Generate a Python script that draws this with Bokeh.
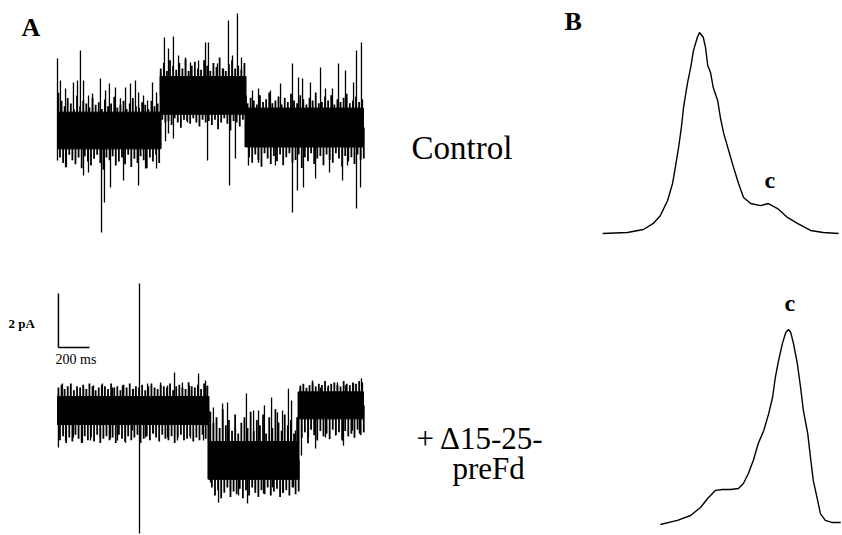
import numpy as np
from bokeh.plotting import figure
from bokeh.models import Range1d, Label
from bokeh.embed import file_html
from bokeh.resources import INLINE

# ---------------- data ----------------
# Panel A, control trace: levels (ms start, ms end, current pA, solid noise half-width pA)
ctrl_level_start = [0, 665, 1213]
ctrl_level_end = [665, 1213, 1974]
ctrl_level_current = [0.0, 1.30, 0.11]
ctrl_level_noise = [0.68, 0.70, 0.72]
# noise extremes sampled every 20 ms (pA above / below the level)
noise_step_ms = 20
ctrl_noise_up = [1.4, 1.1, 0.9, 1.2, 1.0, 0.8, 1.3, 0.9, 1.1, 1.0, 0.85, 1.2, 0.95, 1.05, 0.8, 1.15, 0.9, 1.0, 1.25, 0.85,
                 0.95, 1.1, 0.8, 1.0, 1.2, 0.9, 0.85, 1.05, 0.95, 0.8, 1.1, 0.9, 1.0,
                 1.0, 1.2, 0.9, 1.3, 1.1, 0.95, 1.2, 1.0, 1.35, 0.9, 1.1, 1.25, 1.0, 0.95, 1.3, 1.1, 0.9, 1.2, 1.05, 1.4,
                 1.0, 0.9, 1.15, 1.3, 1.0, 1.1, 0.95, 1.2,
                 0.9, 1.1, 1.0, 0.85, 1.2, 0.95, 1.05, 1.3, 0.9, 1.0, 1.15, 0.85, 1.1, 0.95, 1.25, 1.0, 0.9, 1.2, 1.05,
                 0.85, 1.1, 1.0, 1.3, 0.9, 0.95, 1.15, 1.0, 1.2, 0.85, 1.05, 0.95, 1.1, 1.25, 0.9, 1.0, 1.15, 0.95, 1.05]
ctrl_noise_dn = [1.0, 1.2, 1.35, 0.9, 1.1, 1.25, 1.0, 1.4, 0.95, 1.15, 1.3, 1.05, 0.9, 1.2, 1.45, 1.0, 1.1, 0.95, 1.3, 1.15,
                 1.0, 1.25, 0.9, 1.35, 1.05, 1.2, 0.95, 1.1, 1.4, 1.0, 1.15, 0.9, 1.2,
                 0.9, 1.0, 0.95, 1.1, 0.85, 1.0, 1.2, 0.9, 0.95, 1.05, 0.85, 1.0, 1.15, 0.9, 1.0, 0.95, 1.1, 0.9, 1.25,
                 1.0, 0.85, 1.05, 1.3, 0.95, 1.0, 1.15, 0.9, 1.0,
                 1.1, 1.3, 1.0, 1.2, 1.45, 0.95, 1.15, 1.35, 1.05, 1.25, 1.0, 1.4, 1.1, 0.95, 1.3, 1.2, 1.0, 1.5, 1.1,
                 1.25, 0.95, 1.35, 1.15, 1.05, 1.4, 1.0, 1.2, 1.3, 0.95, 1.15, 1.45, 1.05, 1.25, 1.1, 1.35, 1.0, 1.2, 1.15]
# large spikes (time ms, tip current pA)
ctrl_spike_t = [0, 19, 52, 103, 129, 148, 168, 200, 226, 277, 310, 335, 374, 406, 439, 471, 503, 523, 555, 581, 613, 639,
                665, 690, 716, 748, 781, 826, 858, 910, 955, 974, 1032, 1071, 1103, 1129, 1161, 1187,
                1258, 1297, 1374, 1439, 1516, 1555, 1581, 1632, 1697, 1729, 1774, 1813, 1858, 1910, 1929, 1961,
                0, 52, 168, 200, 284, 303, 342, 426, 523, 568, 639, 697, 716, 748, 839, 968, 1110, 1148,
                1232, 1297, 1406, 1516, 1548, 1587, 1665, 1755, 1839, 1871, 1929, 1955]
ctrl_spike_tip = [2.67, 1.85, 1.56, 1.78, 1.85, 2.96, 1.85, 1.30, 1.37, 1.93, 1.48, 1.74, 1.59, 1.19, 1.59, 1.74, 1.85, 1.41, 1.30, 1.11, 1.78, 1.41,
                  2.15, 3.44, 3.04, 3.48, 2.78, 2.70, 2.52, 2.59, 3.26, 3.26, 2.48, 2.30, 4.07, 2.78, 4.33, 2.70,
                  1.48, 1.56, 1.48, 1.74, 2.48, 1.96, 1.93, 1.78, 2.33, 1.56, 1.56, 2.48, 2.22, 1.78, 2.96, 3.26,
                  -1.11, -1.37, -1.67, -1.56, -3.78, -2.67, -2.11, -1.85, -2.04, -1.41, -1.41, -0.40, -0.11, -0.30, 0.30, -1.11, -2.04, -1.04,
                  -1.30, -1.19, -1.30, -3.04, -2.22, -2.11, -1.78, -1.56, -1.85, -1.30, -2.89, -2.11]

# Panel A, +Δ15-25-preFd trace
drug_level_start = [0, 974, 1555]
drug_level_end = [974, 1555, 1974]
drug_level_current = [0.0, -1.85, 0.19]
drug_level_noise = [0.52, 0.70, 0.50]
drug_noise_up = [0.85, 0.95, 0.8, 0.9, 1.0, 0.75, 0.9, 0.85, 0.95, 0.8, 1.0, 0.9, 0.75, 0.85, 0.95, 0.9, 0.8, 1.0, 0.85, 0.9,
                 0.75, 0.95, 0.85, 1.0, 0.8, 0.9, 0.85, 0.95, 0.75, 0.9, 1.0, 0.85, 0.8, 0.95, 0.9, 0.85, 1.0, 0.75, 0.9,
                 0.95, 0.85, 0.8, 1.05, 0.9, 0.85, 0.95, 0.8, 1.0, 0.9,
                 1.8, 1.4, 1.6, 1.2, 1.9, 1.3, 1.5, 1.1, 1.7, 1.0, 1.4, 1.6, 1.2, 1.8, 1.1, 1.5, 1.3, 1.7, 1.0, 1.6,
                 1.2, 1.9, 1.4, 1.1, 1.7, 1.3, 1.5, 1.0, 1.6,
                 0.7, 0.8, 0.65, 0.75, 0.85, 0.7, 0.8, 0.75, 0.9, 0.7, 0.8, 0.85, 0.75, 0.7, 0.9, 0.8, 0.75, 0.85, 0.8,
                 0.9, 0.85]
drug_noise_dn = [1.1, 0.95, 1.2, 1.0, 1.15, 0.9, 1.05, 1.2, 0.95, 1.1, 1.0, 1.15, 0.9, 1.2, 1.05, 0.95, 1.1, 1.0, 1.2, 0.9,
                 1.05, 1.15, 0.95, 1.1, 1.0, 0.9, 1.2, 1.05, 0.95, 1.1, 0.85, 1.0, 1.15, 0.9, 1.05, 1.1, 0.95, 1.2, 1.0,
                 0.9, 1.1, 1.05, 0.95, 1.15, 1.0, 1.1, 0.9, 1.05, 1.15,
                 1.0, 1.3, 1.1, 1.4, 1.2, 1.0, 1.35, 1.15, 1.25, 1.05, 1.4, 1.1, 1.3, 1.0, 1.2, 1.35, 1.1, 1.25, 1.0,
                 1.3, 1.15, 1.05, 1.35, 1.2, 1.1, 1.3, 1.0, 1.25, 1.15,
                 1.2, 1.0, 1.4, 0.9, 1.1, 1.3, 0.95, 1.15, 1.05, 1.25, 0.9, 1.1, 1.0, 1.3, 0.95, 1.15, 1.05, 1.2, 0.9,
                 1.1, 1.0]
drug_spike_t = [32, 84, 168, 232, 290, 355, 419, 490, 581, 665, 710, 755, 806, 852, 910, 955,
                968, 1006, 1065, 1097, 1148, 1219, 1265, 1297, 1335, 1381, 1419, 1452, 1490, 1510, 1535,
                1568, 1645, 1697, 1748, 1806, 1858, 1910, 1961,
                6, 52, 103, 161, 213, 277, 342, 387, 439, 484, 568, 619, 710, 774, 858, 942,
                987, 1039, 1116, 1168, 1226, 1277, 1329, 1387, 1452, 1523,
                1574, 1619, 1665, 1729, 1794, 1845, 1903, 1948,
                529, 529]
drug_spike_tip = [1.00, 0.85, 0.81, 0.93, 1.00, 0.85, 0.93, 0.81, 1.00, 1.04, 0.93, 1.41, 1.04, 0.93, 1.37, 1.11,
                  0.93, 0.11, 0.26, 0.30, -0.63, 0.63, 0.00, 0.00, 0.19, 0.48, -0.07, 0.00, 0.81, 0.37, -0.74,
                  0.93, 1.11, 0.85, 0.93, 1.04, 0.93, 1.00, 1.19,
                  -1.37, -1.11, -1.00, -1.19, -1.11, -1.00, -1.04, -1.11, -1.19, -0.74, -1.00, -0.85, -1.00, -1.11, -1.04, -1.11,
                  -2.67, -3.41, -2.96, -3.15, -3.44, -2.89, -3.07, -2.85, -3.04, -2.85,
                  -1.67, -1.00, -1.41, -1.00, -0.93, -1.30, -0.74, -0.85,
                  4.70, -4.56]

# scale bar
bar_time_ms = 200
bar_current_pa = 2

# Panel B, amplitude histograms (pA, relative counts)
hist_ctrl_amp = [-1.76, -1.31, -1.02, -0.84, -0.71, -0.58, -0.49, -0.44, -0.38, -0.33, -0.29, -0.22, -0.16, -0.11, -0.04, 0.00,
                 0.07, 0.11, 0.15, 0.20, 0.25, 0.33, 0.38, 0.44, 0.53, 0.62, 0.71, 0.80, 0.93, 1.11, 1.25, 1.42, 1.60, 1.78,
                 2.02, 2.25, 2.53]
hist_ctrl_count = [0, 0.5, 2.0, 5.0, 9.0, 16.4, 24.9, 32.8, 42.8, 52.7, 62.7, 74.6, 82.6, 91.0, 97.5, 100,
                   97.5, 92.5, 83.6, 80.1, 72.6, 66.2, 57.7, 49.8, 41.3, 32.8, 24.9, 17.9, 14.9, 13.9, 14.9, 12.4, 8.0, 5.0,
                   1.5, 0.5, 0]
hist_drug_amp = [-2.33, -2.02, -1.78, -1.60, -1.47, -1.33, -1.20, -1.05, -0.91, -0.82, -0.73, -0.64, -0.55, -0.45, -0.36,
                 -0.29, -0.24, -0.18, -0.11, -0.05, 0.00, 0.04, 0.09, 0.16, 0.22, 0.27, 0.35, 0.40, 0.45, 0.53, 0.58,
                 0.67, 0.80, 0.95]
hist_drug_count = [0.5, 2.6, 5.1, 9.2, 13.8, 17.9, 18.4, 18.4, 18.9, 21.4, 26.5, 33.2, 41.8, 48.5, 57.1,
                   65.3, 75.5, 84.2, 92.9, 98.5, 100, 98.5, 92.9, 82.7, 70.4, 58.7, 46.9, 34.7, 23.0, 12.8, 6.1,
                   2.6, 1.5, 1.5]

# ---------------- layout ----------------
W, H = 842, 535
FX0, FX1, FY0, FY1 = 0, W, 0, H


def xr(d0, p0, s):
    return Range1d(d0 + (FX0 - p0) / s, d0 + (FX1 - p0) / s)


def yr(d0, p0, s):
    return Range1d(d0 - (FY1 - p0) / s, d0 + (p0 - FY0) / s)


p = figure(width=W, height=H, output_backend="svg", toolbar_location=None,
           x_range=Range1d(FX0, FX1), y_range=Range1d(FY1, FY0),
           x_axis_type=None, y_axis_type=None, min_border=0)
p.outline_line_color = None
p.xgrid.visible = False
p.ygrid.visible = False

p.extra_x_ranges = {"t": xr(0, 57, 0.155), "amp1": xr(0, 699, 55), "amp2": xr(0, 788, 55)}
p.extra_y_ranges = {"i1": yr(0, 130, 27), "i2": yr(0, 410, 27), "n1": yr(0, 233, 2.01), "n2": yr(0, 525, 1.96)}


def level_index(starts, t):
    return np.clip(np.searchsorted(starts, t, side="right") - 1, 0, len(starts) - 1)


def draw_trace(starts, ends, cur, noise, up, dn, st, tips, yname):
    starts = np.array(starts, float)
    ends = np.array(ends, float)
    cur = np.array(cur, float)
    noise = np.array(noise, float)
    kw = dict(x_range_name="t", y_range_name=yname)
    # solid core of the noise band
    p.quad(left=starts, right=ends, bottom=cur - noise, top=cur + noise,
           fill_color="black", line_color="black", line_width=1, **kw)
    # sampled noise extremes
    nt = np.arange(len(up)) * noise_step_ms + 6.0
    base = cur[level_index(starts, nt)]
    p.segment(x0=nt, y0=base, x1=nt, y1=base + np.array(up), line_color="black", line_width=1.8, **kw)
    p.segment(x0=nt + 10, y0=base, x1=nt + 10, y1=base - np.array(dn), line_color="black", line_width=1.8, **kw)
    # large spikes
    st = np.array(st, float)
    sb = cur[level_index(starts, st)]
    p.segment(x0=st, y0=sb, x1=st, y1=np.array(tips, float), line_color="black", line_width=1.3, **kw)
    # transitions between levels
    for k in range(1, len(starts)):
        lo = min(cur[k - 1] - noise[k - 1], cur[k] - noise[k])
        hi = max(cur[k - 1] + noise[k - 1], cur[k] + noise[k])
        p.segment(x0=[starts[k]], y0=[lo], x1=[starts[k]], y1=[hi], line_color="black", line_width=2, **kw)


draw_trace(ctrl_level_start, ctrl_level_end, ctrl_level_current, ctrl_level_noise,
           ctrl_noise_up, ctrl_noise_dn, ctrl_spike_t, ctrl_spike_tip, "i1")
draw_trace(drug_level_start, drug_level_end, drug_level_current, drug_level_noise,
           drug_noise_up, drug_noise_dn, drug_spike_t, drug_spike_tip, "i2")

# scale bar (corner at t=6 ms, 2.33 pA on the lower trace scale)
c_t, c_i = 6, 2.33
p.line(x=[c_t, c_t + bar_time_ms], y=[c_i, c_i], line_color="black", line_width=1.5,
       x_range_name="t", y_range_name="i2")
p.line(x=[c_t, c_t], y=[c_i, c_i + bar_current_pa], line_color="black", line_width=1.5,
       x_range_name="t", y_range_name="i2")

# histograms
p.line(x=hist_ctrl_amp, y=hist_ctrl_count, line_color="black", line_width=1.4,
       x_range_name="amp1", y_range_name="n1")
p.line(x=hist_drug_amp, y=hist_drug_count, line_color="black", line_width=1.4,
       x_range_name="amp2", y_range_name="n2")

SERIF = "'Liberation Serif', 'Times New Roman', serif"


def lab(x, y, text, size, bold=False):
    p.add_layout(Label(x=x, y=y, text=text, text_font=SERIF, text_font_size="%dpx" % size,
                       text_font_style="bold" if bold else "normal", text_color="black",
                       text_baseline="alphabetic", text_align="left"))


lab(21, 27, "A", 26, True)
lab(564, 21, "B", 26, True)
lab(411, 147, "Control", 33)
lab(416, 438, "+ \u039415-25-", 31)
lab(452, 468, "preFd", 31)
lab(764, 179, "c", 24, True)
lab(784, 302, "c", 24, True)
lab(8, 323, "2 pA", 13, True)
lab(55, 359, "200 ms", 14)

open("out.html", "w").write(file_html(p, INLINE))
